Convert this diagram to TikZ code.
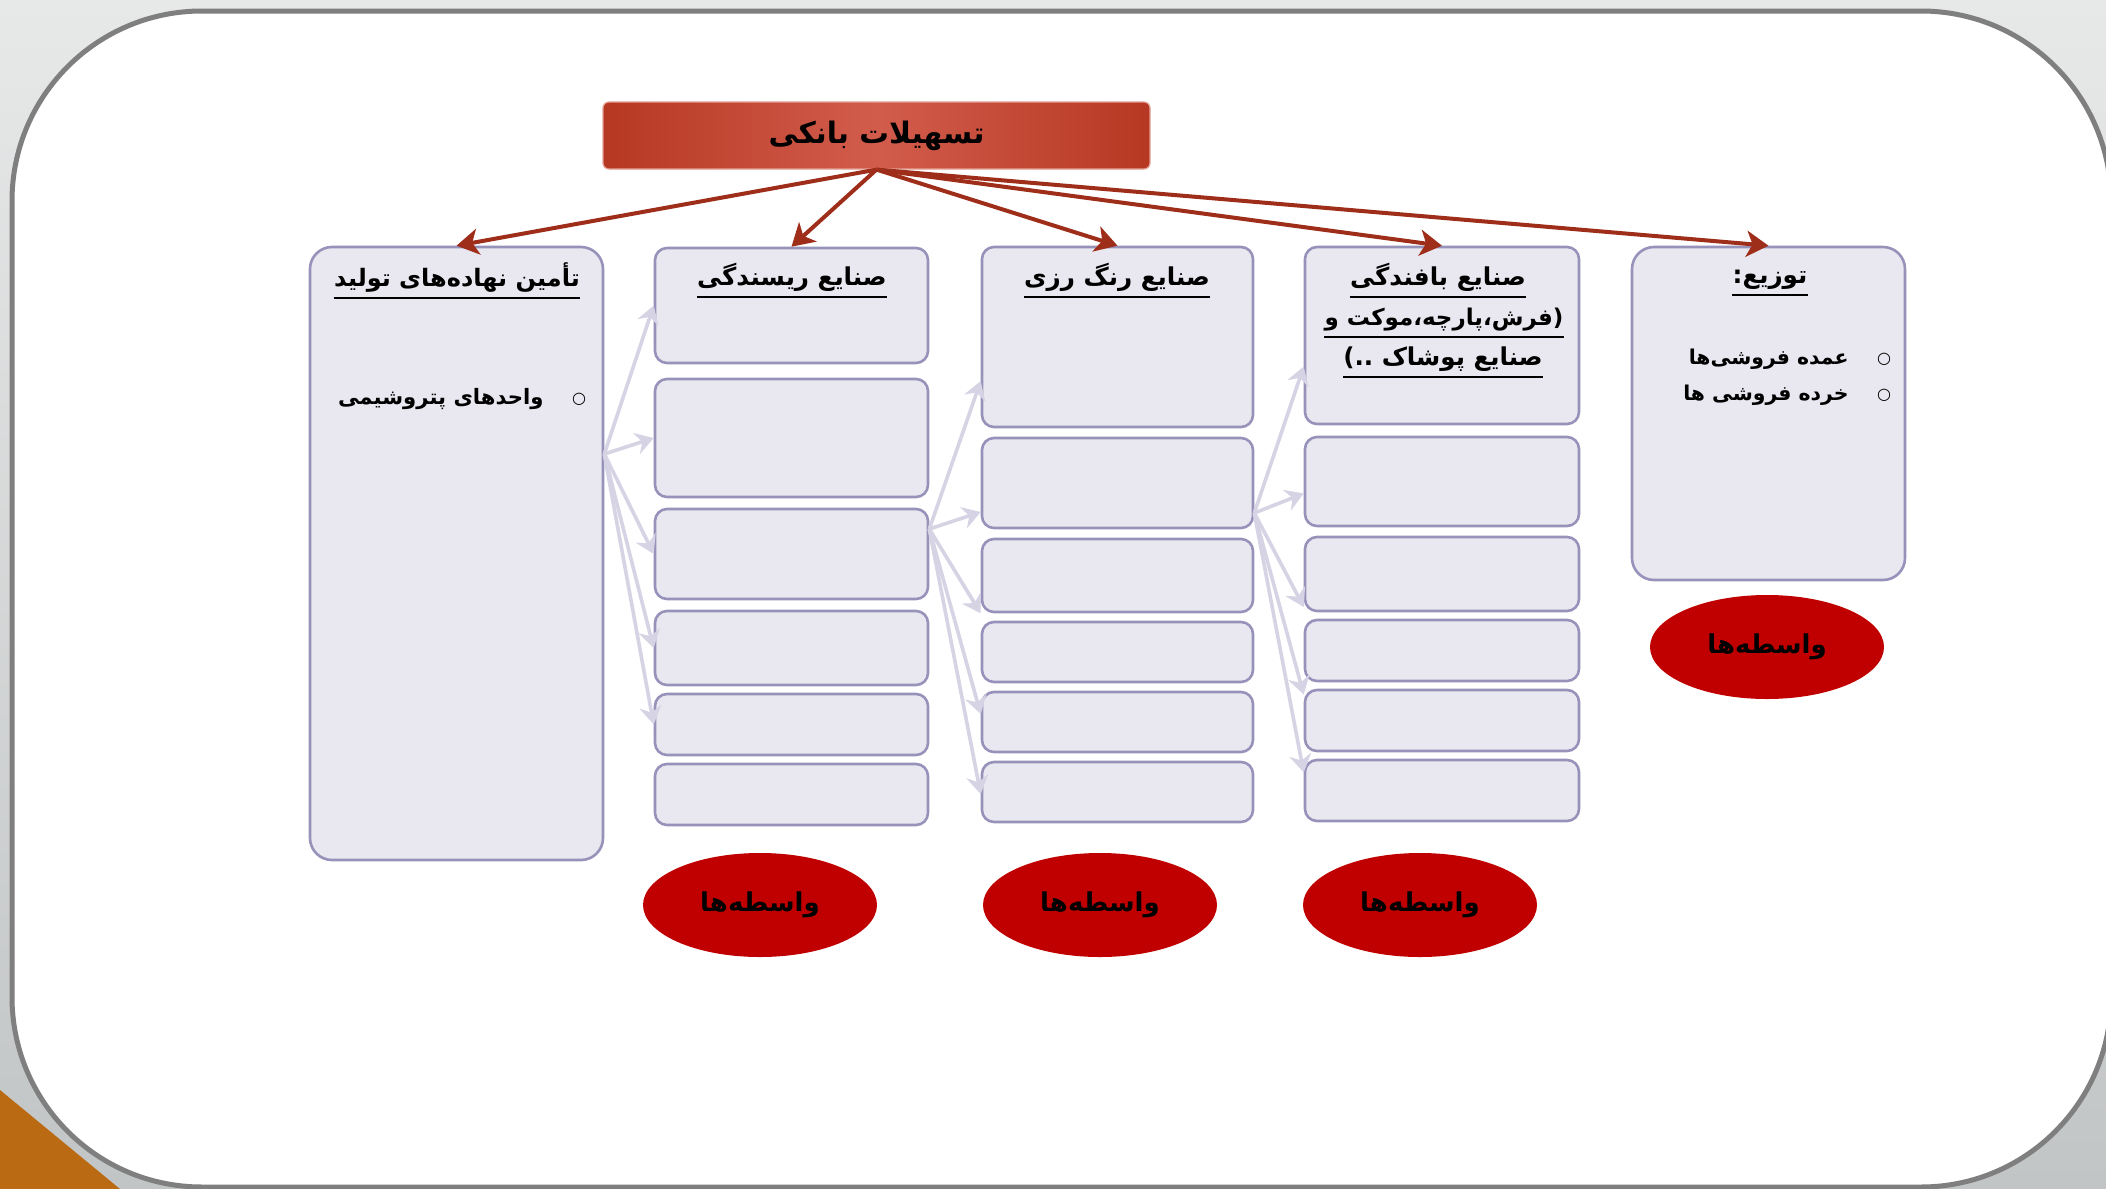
\documentclass[tikz,border=0pt]{standalone}
\usepackage{fontspec}
\usetikzlibrary{arrows.meta,shapes.geometric}
\TeXXeTstate=1
\newfontfamily\fa[Script=Arabic]{DejaVu Sans}
\newfontfamily\symf{DejaVu Sans}
\definecolor{boxfill}{RGB}{233,232,240}
\definecolor{boxdraw}{RGB}{150,146,186}
\definecolor{redarrow}{RGB}{158,46,26}
\definecolor{greyarrow}{RGB}{214,212,228}
\definecolor{ellred}{RGB}{192,0,0}
\definecolor{titledark}{RGB}{182,56,34}
\definecolor{titlelight}{RGB}{210,92,76}
\definecolor{titleedge}{RGB}{228,160,148}
\definecolor{framegray}{RGB}{127,127,127}
\definecolor{cornerorange}{RGB}{185,106,18}
\definecolor{bgtop}{RGB}{231,232,232}
\definecolor{bgbot}{RGB}{194,197,198}
\newcommand\fatx[1]{{\fa\bfseries\beginR #1\endR}}
\begin{document}
\begin{tikzpicture}[x=0.5pt,y=-0.5pt,
  box/.style={draw=boxdraw, fill=boxfill, line width=1.3pt, rounded corners=6pt, inner sep=0pt},
  bigbox/.style={box, rounded corners=11pt},
  ttl/.style={draw=titleedge, line width=0.6pt, rounded corners=3pt, inner sep=0pt,
    left color=titledark, right color=titledark, middle color=titlelight},
  hdr/.style={anchor=base, inner sep=0pt, font=\fontsize{12.3}{15}\selectfont},
  blt/.style={anchor=base east, inner sep=0pt, font=\fontsize{10.6}{13}\selectfont},
  bdot/.style={inner sep=0pt, font=\fontsize{8}{10}\selectfont\symf},
  uline/.style={black, line width=0.9pt},
  ell/.style={ellipse, fill=ellred, draw=none, minimum width=117pt, minimum height=52pt, inner sep=0pt,
    font=\fontsize{13}{16}\selectfont},
  redarr/.style={draw=redarrow, line width=2pt, -{Stealth[length=11pt,width=13pt,inset=3pt]}},
  greyarr/.style={draw=greyarrow, line width=1.8pt, -{Stealth[length=9pt,width=11pt,inset=3pt]}}
]
\useasboundingbox (0,0) rectangle (2106,1189);
% background and frame
\shade[top color=bgtop, bottom color=bgbot] (0,0) rectangle (2106,1189);
\fill[cornerorange] (0,1090) -- (120,1189) -- (0,1189) -- cycle;
\draw[framegray, line width=2.5pt, fill=white, rounded corners=95pt] (12,11) rectangle (2111,1187);

% title
\node[ttl, minimum width=273.5pt, minimum height=33.5pt] (title) at (876.5,135.5)
  {\fontsize{14.8}{18}\selectfont\fatx{تسهیلات بانکی}};

% big boxes
\node[bigbox, minimum width=146.5pt, minimum height=306.5pt] (a) at (456.5,553.5) {};
\node[bigbox, minimum width=136.5pt, minimum height=166.5pt] (e) at (1768.5,413.5) {};

% column B
\node[box, minimum width=136.5pt, minimum height=57.5pt] (b1) at (791.5,305.5) {};
\node[box, minimum width=136.5pt, minimum height=59pt] (b2) at (791.5,438) {};
\node[box, minimum width=136.5pt, minimum height=45pt] (b3) at (791.5,554) {};
\node[box, minimum width=136.5pt, minimum height=37pt] (b4) at (791.5,648) {};
\node[box, minimum width=136.5pt, minimum height=30.5pt] (b5) at (791.5,724.5) {};
\node[box, minimum width=136.5pt, minimum height=30.5pt] (b6) at (791.5,794.5) {};

% column C
\node[box, minimum width=135.5pt, minimum height=90pt] (c1) at (1117.5,337) {};
\node[box, minimum width=135.5pt, minimum height=45pt] (c2) at (1117.5,483) {};
\node[box, minimum width=135.5pt, minimum height=36.5pt] (c3) at (1117.5,575.5) {};
\node[box, minimum width=135.5pt, minimum height=30pt] (c4) at (1117.5,652) {};
\node[box, minimum width=135.5pt, minimum height=30pt] (c5) at (1117.5,722) {};
\node[box, minimum width=135.5pt, minimum height=30pt] (c6) at (1117.5,792) {};

% column D
\node[box, minimum width=137pt, minimum height=88.5pt] (d1) at (1442,335.5) {};
\node[box, minimum width=137pt, minimum height=44.5pt] (d2) at (1442,481.5) {};
\node[box, minimum width=137pt, minimum height=37pt] (d3) at (1442,574) {};
\node[box, minimum width=137pt, minimum height=30.5pt] (d4) at (1442,650.5) {};
\node[box, minimum width=137pt, minimum height=30.5pt] (d5) at (1442,720.5) {};
\node[box, minimum width=137pt, minimum height=30.5pt] (d6) at (1442,790.5) {};

% headers
\node[hdr, font=\fontsize{12}{15}\selectfont] (ah) at (457,286) {\fatx{تأمین نهاده‌های تولید}};
\node[hdr] (bh) at (792,285) {\fatx{صنایع ریسندگی}};
\node[hdr] (ch) at (1117,285) {\fatx{صنایع رنگ رزی}};
\node[hdr] (dh1) at (1438,285) {\fatx{صنایع بافندگی}};
\node[hdr, font=\fontsize{11.5}{14}\selectfont] (dh2) at (1444,325) {\fatx{(فرش،پارچه،موکت و}};
\node[hdr] (dh3) at (1443,365) {\fatx{صنایع پوشاک ..)}};
\node[hdr] (eh) at (1770,283) {\fatx{توزیع:}};
\foreach \h in {ah,bh,ch,dh1,dh2,dh3,eh}
  \draw[uline] ([yshift=-6pt]\h.base west) -- ([yshift=-6pt]\h.base east);

% bullets
\node[bdot] (ad) at (579,399) {○};
\node[blt] (at1) at (544,404) {\fatx{واحدهای پتروشیمی}};
\node[bdot] (ed1) at (1884,359) {○};
\node[blt, font=\fontsize{10.2}{13}\selectfont] (et1) at (1849,364) {\fatx{عمده فروشی‌ها}};
\node[bdot] (ed2) at (1884,395) {○};
\node[blt, font=\fontsize{10.2}{13}\selectfont] (et2) at (1849,400) {\fatx{خرده فروشی ها}};

% ellipses
\node[ell] (eb) at (760,905) {\fatx{واسطه‌ها}};
\node[ell] (ec) at (1100,905) {\fatx{واسطه‌ها}};
\node[ell] (ed) at (1420,905) {\fatx{واسطه‌ها}};
\node[ell] (ee) at (1767,647) {\fatx{واسطه‌ها}};

% red arrows
\draw[redarr] (title.south) -- (a.north);
\draw[redarr] (title.south) -- (b1.north);
\draw[redarr] (title.south) -- (c1.north);
\draw[redarr] (title.south) -- (d1.north);
\draw[redarr] (title.south) -- (e.north);

% grey arrows
\coordinate (aout) at ([yshift=49.75pt]a.east);
\coordinate (bout) at ([yshift=12.5pt]b3.east);
\coordinate (cout) at ([yshift=-15pt]c2.east);
\foreach \t in {b1,b2,b3,b4,b5}
  \draw[greyarr] (aout) -- (\t.west);
\draw[greyarr] (bout) -- ([yshift=-22pt]c1.west);
\draw[greyarr] (bout) -- ([yshift=-14.5pt]c2.west);
\draw[greyarr] (bout) -- (c3.south west);
\draw[greyarr] (bout) -- ([yshift=4pt]c5.west);
\draw[greyarr] (bout) -- ([yshift=-1pt]c6.west);
\draw[greyarr] (cout) -- ([yshift=-15.5pt]d1.west);
\draw[greyarr] (cout) -- ([yshift=-6pt]d2.west);
\draw[greyarr] (cout) -- ([yshift=-16.5pt]d3.west);
\draw[greyarr] (cout) -- ([yshift=13pt]d5.west);
\draw[greyarr] (cout) -- ([yshift=9pt]d6.west);
\end{tikzpicture}
\end{document}
